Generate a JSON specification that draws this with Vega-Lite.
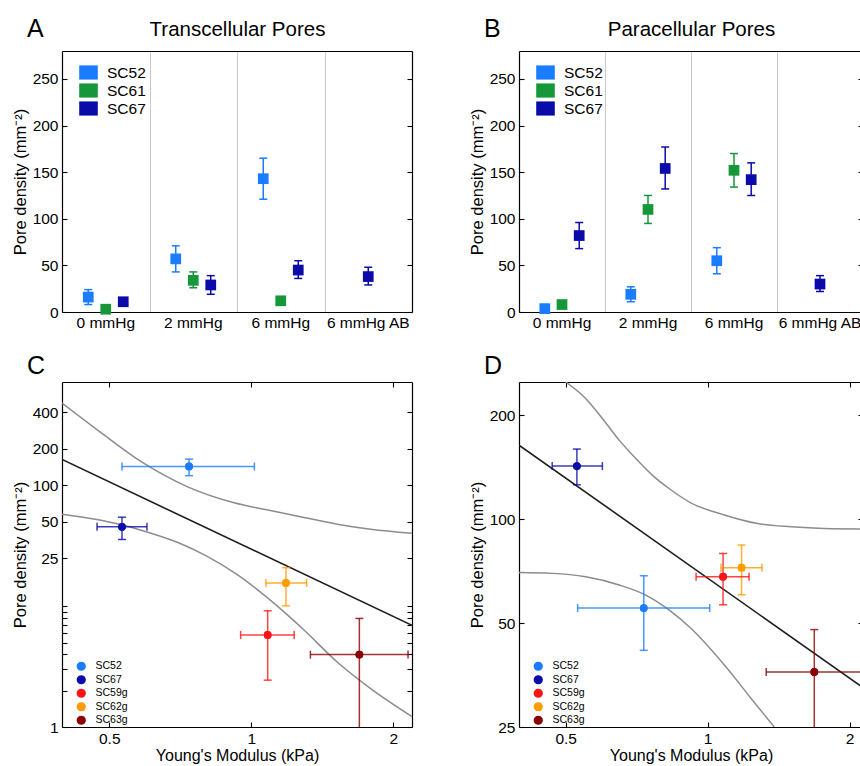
{
  "$schema": "https://vega.github.io/schema/vega-lite/v6.json",
  "padding": {"left": 12, "top": 17, "right": 0, "bottom": 0},
  "background": "white",
  "config": {
    "font": "Liberation Sans",
    "view": {"stroke": null},
    "axis": {"domainColor": "#000", "domainWidth": 1.2, "tickColor": "#000", "tickWidth": 1.1, "labelColor": "#000", "titleColor": "#000", "labelFontSize": 15.5, "titleFontSize": 16, "titleFontWeight": "normal", "grid": false, "zindex": 1},
    "title": {"fontWeight": "normal", "color": "#000"},
    "legend": {"labelColor": "#000"}
  },
  "datasets": {
    "tp": [
      {"cond": "0 mmHg", "series": "SC52", "y": 16, "lo": 8, "hi": 24},
      {"cond": "0 mmHg", "series": "SC61", "y": 3, "lo": 1.5, "hi": 4.5},
      {"cond": "0 mmHg", "series": "SC67", "y": 11, "lo": 8, "hi": 14},
      {"cond": "2 mmHg", "series": "SC52", "y": 57, "lo": 43, "hi": 71},
      {"cond": "2 mmHg", "series": "SC61", "y": 34, "lo": 26, "hi": 43},
      {"cond": "2 mmHg", "series": "SC67", "y": 29, "lo": 19, "hi": 39},
      {"cond": "6 mmHg", "series": "SC52", "y": 143, "lo": 121, "hi": 165},
      {"cond": "6 mmHg", "series": "SC61", "y": 12, "lo": 10, "hi": 14},
      {"cond": "6 mmHg", "series": "SC67", "y": 45, "lo": 36, "hi": 55},
      {"cond": "6 mmHg AB", "series": "SC67", "y": 38, "lo": 29, "hi": 48}
    ],
    "pp": [
      {"cond": "0 mmHg", "series": "SC52", "y": 3.6, "lo": 2, "hi": 5},
      {"cond": "0 mmHg", "series": "SC61", "y": 8, "lo": 6, "hi": 10},
      {"cond": "0 mmHg", "series": "SC67", "y": 82, "lo": 68, "hi": 96},
      {"cond": "2 mmHg", "series": "SC52", "y": 19, "lo": 11, "hi": 27},
      {"cond": "2 mmHg", "series": "SC61", "y": 110, "lo": 95, "hi": 125},
      {"cond": "2 mmHg", "series": "SC67", "y": 154, "lo": 132, "hi": 177},
      {"cond": "6 mmHg", "series": "SC52", "y": 55, "lo": 41, "hi": 69},
      {"cond": "6 mmHg", "series": "SC61", "y": 152, "lo": 134, "hi": 170},
      {"cond": "6 mmHg", "series": "SC67", "y": 142, "lo": 125, "hi": 160},
      {"cond": "6 mmHg AB", "series": "SC67", "y": 30, "lo": 22, "hi": 39}
    ],
    "cm": [
      {"series": "SC52", "x": 0.738, "xlo": 0.532, "xhi": 1.015, "y": 143, "ylo": 120, "yhi": 164.6},
      {"series": "SC67", "x": 0.532, "xlo": 0.471, "xhi": 0.601, "y": 45.3, "ylo": 35.6, "yhi": 54.4},
      {"series": "SC59g", "x": 1.083, "xlo": 0.949, "xhi": 1.233, "y": 5.77, "ylo": 2.44, "yhi": 9.15},
      {"series": "SC62g", "x": 1.184, "xlo": 1.074, "xhi": 1.31, "y": 15.56, "ylo": 10.06, "yhi": 20.8},
      {"series": "SC63g", "x": 1.694, "xlo": 1.334, "xhi": 2.148, "y": 3.97, "ylo": 0.9, "yhi": 7.91}
    ],
    "dm": [
      {"series": "SC52", "x": 0.732, "xlo": 0.53, "xhi": 1.01, "y": 55.3, "ylo": 41.7, "yhi": 68.6},
      {"series": "SC67", "x": 0.528, "xlo": 0.468, "xhi": 0.598, "y": 142.6, "ylo": 125.9, "yhi": 159.8},
      {"series": "SC59g", "x": 1.078, "xlo": 0.945, "xhi": 1.224, "y": 68.2, "ylo": 56.5, "yhi": 79.6},
      {"series": "SC62g", "x": 1.18, "xlo": 1.067, "xhi": 1.304, "y": 72.4, "ylo": 60.4, "yhi": 84.2},
      {"series": "SC63g", "x": 1.683, "xlo": 1.331, "xhi": 2.14, "y": 36.1, "ylo": 24, "yhi": 47.9}
    ],
    "cfit": [
      {"curve": "fit", "x": 0.397, "y": 163.5},
      {"curve": "fit", "x": 2.19, "y": 6.93},
      {"curve": "upper", "x": 0.397, "y": 479},
      {"curve": "upper", "x": 0.478, "y": 276.5},
      {"curve": "upper", "x": 0.589, "y": 153.6},
      {"curve": "upper", "x": 0.731, "y": 97.4},
      {"curve": "upper", "x": 0.915, "y": 71.9},
      {"curve": "upper", "x": 1.097, "y": 61.8},
      {"curve": "upper", "x": 1.293, "y": 54.1},
      {"curve": "upper", "x": 1.52, "y": 47.6},
      {"curve": "upper", "x": 1.79, "y": 43.3},
      {"curve": "upper", "x": 2.19, "y": 40.1},
      {"curve": "lower", "x": 0.397, "y": 57.6},
      {"curve": "lower", "x": 0.467, "y": 52.3},
      {"curve": "lower", "x": 0.528, "y": 47.3},
      {"curve": "lower", "x": 0.596, "y": 41.5},
      {"curve": "lower", "x": 0.703, "y": 33.3},
      {"curve": "lower", "x": 0.799, "y": 26.3},
      {"curve": "lower", "x": 0.932, "y": 18.3},
      {"curve": "lower", "x": 1.097, "y": 11.2},
      {"curve": "lower", "x": 1.293, "y": 6.34},
      {"curve": "lower", "x": 1.52, "y": 3.45},
      {"curve": "lower", "x": 1.79, "y": 2.08},
      {"curve": "lower", "x": 2.19, "y": 1.22}
    ],
    "dfit": [
      {"curve": "fit", "x": 0.398, "y": 164},
      {"curve": "fit", "x": 2.135, "y": 32.5},
      {"curve": "upper", "x": 0.5, "y": 250},
      {"curve": "upper", "x": 0.551, "y": 224},
      {"curve": "upper", "x": 0.598, "y": 196},
      {"curve": "upper", "x": 0.649, "y": 169.6},
      {"curve": "upper", "x": 0.704, "y": 150},
      {"curve": "upper", "x": 0.763, "y": 134.3},
      {"curve": "upper", "x": 0.828, "y": 122.8},
      {"curve": "upper", "x": 0.921, "y": 111.6},
      {"curve": "upper", "x": 1.085, "y": 102.9},
      {"curve": "upper", "x": 1.276, "y": 97.2},
      {"curve": "upper", "x": 1.502, "y": 95.1},
      {"curve": "upper", "x": 1.767, "y": 94.0},
      {"curve": "upper", "x": 2.135, "y": 93.7},
      {"curve": "lower", "x": 0.398, "y": 70.1},
      {"curve": "lower", "x": 0.468, "y": 69.7},
      {"curve": "lower", "x": 0.551, "y": 68.1},
      {"curve": "lower", "x": 0.649, "y": 64.5},
      {"curve": "lower", "x": 0.739, "y": 60.3},
      {"curve": "lower", "x": 0.828, "y": 54.6},
      {"curve": "lower", "x": 0.921, "y": 48.3},
      {"curve": "lower", "x": 1.085, "y": 37.8},
      {"curve": "lower", "x": 1.235, "y": 30.3},
      {"curve": "lower", "x": 1.384, "y": 25}
    ]
  },
  "columns": 2,
  "spacing": {"row": 23, "column": 56},
  "resolve": {"scale": {"color": "independent", "xOffset": "independent", "x": "independent", "y": "independent"}, "legend": {"color": "independent"}},
  "concat": [
    {
      "width": 350, "height": 261,
      "title": {"text": "A", "anchor": "start", "frame": "group", "dx": -35, "dy": 23, "fontSize": 25, "offset": 0},
      "data": {"name": "tp"},
      "resolve": {"axis": {"x": "independent", "y": "independent"}},
      "layer": [
        {"transform": [{"filter": "datum.cond != '6 mmHg AB'"}],
         "mark": {"type": "square", "size": 115, "opacity": 1},
         "encoding": {
           "x": {"field": "cond", "type": "nominal", "scale": {"domain": ["0 mmHg", "2 mmHg", "6 mmHg", "6 mmHg AB"], "paddingInner": 0, "paddingOuter": 0}, "axis": {"orient": "bottom", "title": null, "ticks": false, "labelPadding": 3, "labelAngle": 0, "labelFontSize": 15.5}},
           "xOffset": {"field": "series", "type": "nominal", "scale": {"domain": ["SC52", "SC61", "SC67"], "paddingInner": 0, "paddingOuter": 1}},
           "y": {"field": "y", "type": "quantitative", "scale": {"domain": [0, 280], "nice": false}, "axis": {"orient": "left", "values": [0, 50, 100, 150, 200, 250], "tickSize": -5, "labelPadding": 9, "labelFontSize": 15.5, "title": "Pore density (mm⁻²)", "titleFontSize": 16.5, "titlePadding": 4}},
           "color": {"field": "series", "type": "nominal", "scale": {"domain": ["SC52", "SC61", "SC67"], "range": ["#1a7cff", "#16973a", "#0b0baa"]},
             "legend": {"title": null, "orient": "none", "legendX": 17, "legendY": 12, "symbolType": "M-1,-0.75H1V0.75H-1Z", "symbolSize": 324, "labelFontSize": 15.5, "labelOffset": 9, "rowPadding": 0, "padding": 0, "symbolStrokeColor": "#aaaaaa", "symbolStrokeWidth": 0.6}}
         }},
        {"transform": [{"filter": "datum.cond == '6 mmHg AB'"}],
         "mark": {"type": "square", "size": 115, "opacity": 1},
         "encoding": {
           "x": {"field": "cond", "type": "nominal", "scale": {"domain": ["0 mmHg", "2 mmHg", "6 mmHg", "6 mmHg AB"], "paddingInner": 0, "paddingOuter": 0}, "axis": null},
           "y": {"field": "y", "type": "quantitative", "scale": {"domain": [0, 280], "nice": false}, "axis": null},
           "color": {"field": "series", "type": "nominal", "legend": null}
         }},
        {"transform": [{"filter": "datum.cond != '6 mmHg AB'"}],
         "mark": {"type": "rule", "strokeWidth": 1.5},
         "encoding": {
           "x": {"field": "cond", "type": "nominal", "scale": {"domain": ["0 mmHg", "2 mmHg", "6 mmHg", "6 mmHg AB"], "paddingInner": 0, "paddingOuter": 0}, "axis": {"orient": "top", "labels": false, "ticks": false, "grid": true, "tickBand": "extent", "gridColor": "#c9c9c9", "gridWidth": 1, "title": "Transcellular Pores", "titleFontSize": 20.5, "titlePadding": 12, "zindex": 0}},
           "xOffset": {"field": "series", "type": "nominal", "scale": {"domain": ["SC52", "SC61", "SC67"], "paddingInner": 0, "paddingOuter": 1}},
           "y": {"field": "lo", "type": "quantitative", "scale": {"domain": [0, 280], "nice": false}, "axis": {"orient": "right", "values": [0, 50, 100, 150, 200, 250], "tickSize": -5, "labels": false, "title": null}},
           "y2": {"field": "hi"},
           "color": {"field": "series", "type": "nominal", "legend": null}
         }},
        {"transform": [{"filter": "datum.cond == '6 mmHg AB'"}],
         "mark": {"type": "rule", "strokeWidth": 1.5},
         "encoding": {
           "x": {"field": "cond", "type": "nominal", "axis": null},
           "y": {"field": "lo", "type": "quantitative", "axis": null},
           "y2": {"field": "hi"},
           "color": {"field": "series", "type": "nominal", "legend": null}
         }},
        {"transform": [{"filter": "datum.cond != '6 mmHg AB'"}, {"fold": ["lo", "hi"], "as": ["k", "v"]}],
         "mark": {"type": "tick", "orient": "horizontal", "size": 8, "thickness": 1.5, "opacity": 1},
         "encoding": {
           "x": {"field": "cond", "type": "nominal", "axis": null},
           "xOffset": {"field": "series", "type": "nominal"},
           "y": {"field": "v", "type": "quantitative", "axis": null},
           "color": {"field": "series", "type": "nominal", "legend": null}
         }},
        {"transform": [{"filter": "datum.cond == '6 mmHg AB'"}, {"fold": ["lo", "hi"], "as": ["k", "v"]}],
         "mark": {"type": "tick", "orient": "horizontal", "size": 8, "thickness": 1.5, "opacity": 1},
         "encoding": {
           "x": {"field": "cond", "type": "nominal", "axis": null},
           "y": {"field": "v", "type": "quantitative", "axis": null},
           "color": {"field": "series", "type": "nominal", "legend": null}
         }}
      ]
    },
    {
      "width": 344, "height": 261,
      "title": {"text": "B", "anchor": "start", "frame": "group", "dx": -35, "dy": 23, "fontSize": 25, "offset": 0},
      "data": {"name": "pp"},
      "resolve": {"axis": {"x": "independent", "y": "independent"}},
      "layer": [
        {"transform": [{"filter": "datum.cond != '6 mmHg AB'"}],
         "mark": {"type": "square", "size": 115, "opacity": 1},
         "encoding": {
           "x": {"field": "cond", "type": "nominal", "scale": {"domain": ["0 mmHg", "2 mmHg", "6 mmHg", "6 mmHg AB"], "paddingInner": 0, "paddingOuter": 0}, "axis": {"orient": "bottom", "title": null, "ticks": false, "labelPadding": 3, "labelAngle": 0, "labelFontSize": 15.5}},
           "xOffset": {"field": "series", "type": "nominal", "scale": {"domain": ["SC52", "SC61", "SC67"], "paddingInner": 0, "paddingOuter": 1}},
           "y": {"field": "y", "type": "quantitative", "scale": {"domain": [0, 280], "nice": false}, "axis": {"orient": "left", "values": [0, 50, 100, 150, 200, 250], "tickSize": -5, "labelPadding": 9, "labelFontSize": 15.5, "title": "Pore density (mm⁻²)", "titleFontSize": 16.5, "titlePadding": 4}},
           "color": {"field": "series", "type": "nominal", "scale": {"domain": ["SC52", "SC61", "SC67"], "range": ["#1a7cff", "#16973a", "#0b0baa"]},
             "legend": {"title": null, "orient": "none", "legendX": 17, "legendY": 12, "symbolType": "M-1,-0.75H1V0.75H-1Z", "symbolSize": 324, "labelFontSize": 15.5, "labelOffset": 9, "rowPadding": 0, "padding": 0, "symbolStrokeColor": "#aaaaaa", "symbolStrokeWidth": 0.6}}
         }},
        {"transform": [{"filter": "datum.cond == '6 mmHg AB'"}],
         "mark": {"type": "square", "size": 115, "opacity": 1},
         "encoding": {
           "x": {"field": "cond", "type": "nominal", "scale": {"domain": ["0 mmHg", "2 mmHg", "6 mmHg", "6 mmHg AB"], "paddingInner": 0, "paddingOuter": 0}, "axis": null},
           "y": {"field": "y", "type": "quantitative", "scale": {"domain": [0, 280], "nice": false}, "axis": null},
           "color": {"field": "series", "type": "nominal", "legend": null}
         }},
        {"transform": [{"filter": "datum.cond != '6 mmHg AB'"}],
         "mark": {"type": "rule", "strokeWidth": 1.5},
         "encoding": {
           "x": {"field": "cond", "type": "nominal", "scale": {"domain": ["0 mmHg", "2 mmHg", "6 mmHg", "6 mmHg AB"], "paddingInner": 0, "paddingOuter": 0}, "axis": {"orient": "top", "labels": false, "ticks": false, "grid": true, "tickBand": "extent", "gridColor": "#c9c9c9", "gridWidth": 1, "title": "Paracellular Pores", "titleFontSize": 20.5, "titlePadding": 12, "zindex": 0}},
           "xOffset": {"field": "series", "type": "nominal", "scale": {"domain": ["SC52", "SC61", "SC67"], "paddingInner": 0, "paddingOuter": 1}},
           "y": {"field": "lo", "type": "quantitative", "scale": {"domain": [0, 280], "nice": false}, "axis": {"orient": "right", "values": [0, 50, 100, 150, 200, 250], "tickSize": -5, "labels": false, "title": null}},
           "y2": {"field": "hi"},
           "color": {"field": "series", "type": "nominal", "legend": null}
         }},
        {"transform": [{"filter": "datum.cond == '6 mmHg AB'"}],
         "mark": {"type": "rule", "strokeWidth": 1.5},
         "encoding": {
           "x": {"field": "cond", "type": "nominal", "axis": null},
           "y": {"field": "lo", "type": "quantitative", "axis": null},
           "y2": {"field": "hi"},
           "color": {"field": "series", "type": "nominal", "legend": null}
         }},
        {"transform": [{"filter": "datum.cond != '6 mmHg AB'"}, {"fold": ["lo", "hi"], "as": ["k", "v"]}],
         "mark": {"type": "tick", "orient": "horizontal", "size": 8, "thickness": 1.5, "opacity": 1},
         "encoding": {
           "x": {"field": "cond", "type": "nominal", "axis": null},
           "xOffset": {"field": "series", "type": "nominal"},
           "y": {"field": "v", "type": "quantitative", "axis": null},
           "color": {"field": "series", "type": "nominal", "legend": null}
         }},
        {"transform": [{"filter": "datum.cond == '6 mmHg AB'"}, {"fold": ["lo", "hi"], "as": ["k", "v"]}],
         "mark": {"type": "tick", "orient": "horizontal", "size": 8, "thickness": 1.5, "opacity": 1},
         "encoding": {
           "x": {"field": "cond", "type": "nominal", "axis": null},
           "y": {"field": "v", "type": "quantitative", "axis": null},
           "color": {"field": "series", "type": "nominal", "legend": null}
         }}
      ]
    },
    {
      "width": 350, "height": 345,
      "title": {"text": "C", "anchor": "start", "frame": "group", "dx": -35, "dy": 0, "fontSize": 25, "offset": 2},
      "resolve": {"axis": {"x": "independent", "y": "independent"}},
      "layer": [
        {"data": {"name": "cm"},
         "mark": {"type": "circle", "size": 60, "opacity": 1},
         "encoding": {
           "x": {"field": "x", "type": "quantitative", "scale": {"type": "log", "domain": [0.397, 2.19], "nice": false}, "axis": null},
           "y": {"field": "y", "type": "quantitative", "scale": {"type": "log", "domain": [1, 715], "nice": false}, "axis": null},
           "color": {"field": "series", "type": "nominal", "scale": {"domain": ["SC52", "SC67", "SC59g", "SC62g", "SC63g"], "range": ["#1a7cff", "#0b0baa", "#ff1414", "#ff9c00", "#8b0000"]},
             "legend": {"title": null, "orient": "none", "legendX": 14, "legendY": 279, "symbolType": "circle", "symbolSize": 60, "labelFontSize": 10.5, "labelOffset": 9, "rowPadding": -1.5, "padding": 0}}
         }},
        {"data": {"name": "cfit"},
         "transform": [{"filter": "datum.curve == 'fit'"}],
         "mark": {"type": "line", "color": "#1e1e1e", "strokeWidth": 1.6, "clip": true},
         "encoding": {
           "x": {"field": "x", "type": "quantitative", "scale": {"type": "log", "domain": [0.397, 2.19], "nice": false}, "axis": {"orient": "bottom", "values": [0.5, 1, 2], "format": "~g", "tickSize": -5, "labelPadding": 9, "labelFontSize": 15.5, "title": "Young's Modulus (kPa)", "titleFontSize": 16, "titlePadding": 1}},
           "y": {"field": "y", "type": "quantitative", "scale": {"type": "log", "domain": [1, 715], "nice": false}, "axis": {"orient": "left", "values": [1, 2, 3, 4, 5, 6, 7, 8, 9, 10, 25, 50, 100, 200, 400], "labelExpr": "datum.value == 1 || datum.value >= 25 ? format(datum.value, '~g') : ''", "tickSize": -5, "labelPadding": 9, "labelFontSize": 15.5, "title": "Pore density (mm⁻²)", "titleFontSize": 16.5, "titlePadding": 4}}
         }},
        {"data": {"name": "cfit"},
         "transform": [{"filter": "datum.curve != 'fit'"}],
         "mark": {"type": "line", "color": "#8c8c8c", "strokeWidth": 1.5, "clip": true, "interpolate": "monotone"},
         "encoding": {
           "x": {"field": "x", "type": "quantitative", "scale": {"type": "log", "domain": [0.397, 2.19], "nice": false}, "axis": {"orient": "top", "values": [0.5, 1, 2], "tickSize": -5, "labels": false, "title": null}},
           "y": {"field": "y", "type": "quantitative", "scale": {"type": "log", "domain": [1, 715], "nice": false}, "axis": {"orient": "right", "values": [1, 2, 3, 4, 5, 6, 7, 8, 9, 10, 25, 50, 100, 200, 400], "tickSize": -5, "labels": false, "title": null}},
           "detail": {"field": "curve", "type": "nominal"}
         }},
        {"data": {"name": "cm"},
         "mark": {"type": "rule", "strokeWidth": 1.5, "clip": true, "opacity": 0.8},
         "encoding": {
           "x": {"field": "x", "type": "quantitative", "scale": {"type": "log", "domain": [0.397, 2.19], "nice": false}, "axis": null},
           "y": {"field": "ylo", "type": "quantitative", "scale": {"type": "log", "domain": [1, 715], "nice": false}, "axis": null},
           "y2": {"field": "yhi"},
           "color": {"field": "series", "type": "nominal", "legend": null}
         }},
        {"data": {"name": "cm"},
         "mark": {"type": "rule", "strokeWidth": 1.5, "clip": true, "opacity": 0.8},
         "encoding": {
           "y": {"field": "y", "type": "quantitative", "scale": {"type": "log", "domain": [1, 715], "nice": false}, "axis": null},
           "x": {"field": "xlo", "type": "quantitative", "scale": {"type": "log", "domain": [0.397, 2.19], "nice": false}, "axis": null},
           "x2": {"field": "xhi"},
           "color": {"field": "series", "type": "nominal", "legend": null}
         }},
        {"data": {"name": "cm"},
         "transform": [{"fold": ["ylo", "yhi"], "as": ["k", "v"]}],
         "mark": {"type": "tick", "orient": "horizontal", "size": 8, "thickness": 1.5, "clip": true, "opacity": 0.8},
         "encoding": {
           "x": {"field": "x", "type": "quantitative", "scale": {"type": "log", "domain": [0.397, 2.19], "nice": false}, "axis": null},
           "y": {"field": "v", "type": "quantitative", "scale": {"type": "log", "domain": [1, 715], "nice": false}, "axis": null},
           "color": {"field": "series", "type": "nominal", "legend": null}
         }},
        {"data": {"name": "cm"},
         "transform": [{"fold": ["xlo", "xhi"], "as": ["k", "v"]}],
         "mark": {"type": "tick", "orient": "vertical", "size": 8, "thickness": 1.5, "clip": true, "opacity": 0.8},
         "encoding": {
           "x": {"field": "v", "type": "quantitative", "scale": {"type": "log", "domain": [0.397, 2.19], "nice": false}, "axis": null},
           "y": {"field": "y", "type": "quantitative", "scale": {"type": "log", "domain": [1, 715], "nice": false}, "axis": null},
           "color": {"field": "series", "type": "nominal", "legend": null}
         }},
        {"data": {"name": "cm"},
         "mark": {"type": "circle", "size": 60, "opacity": 1},
         "encoding": {
           "x": {"field": "x", "type": "quantitative", "scale": {"type": "log", "domain": [0.397, 2.19], "nice": false}, "axis": null},
           "y": {"field": "y", "type": "quantitative", "scale": {"type": "log", "domain": [1, 715], "nice": false}, "axis": null},
           "color": {"field": "series", "type": "nominal", "legend": null}
         }}
      ]
    },
    {
      "width": 344, "height": 345,
      "title": {"text": "D", "anchor": "start", "frame": "group", "dx": -35, "dy": 0, "fontSize": 25, "offset": 2},
      "resolve": {"axis": {"x": "independent", "y": "independent"}},
      "layer": [
        {"data": {"name": "dm"},
         "mark": {"type": "circle", "size": 60, "opacity": 1},
         "encoding": {
           "x": {"field": "x", "type": "quantitative", "scale": {"type": "log", "domain": [0.398, 2.135], "nice": false}, "axis": null},
           "y": {"field": "y", "type": "quantitative", "scale": {"type": "log", "domain": [25, 250], "nice": false}, "axis": null},
           "color": {"field": "series", "type": "nominal", "scale": {"domain": ["SC52", "SC67", "SC59g", "SC62g", "SC63g"], "range": ["#1a7cff", "#0b0baa", "#ff1414", "#ff9c00", "#8b0000"]},
             "legend": {"title": null, "orient": "none", "legendX": 14, "legendY": 279, "symbolType": "circle", "symbolSize": 60, "labelFontSize": 10.5, "labelOffset": 9, "rowPadding": -1.5, "padding": 0}}
         }},
        {"data": {"name": "dfit"},
         "transform": [{"filter": "datum.curve == 'fit'"}],
         "mark": {"type": "line", "color": "#1e1e1e", "strokeWidth": 1.6, "clip": true},
         "encoding": {
           "x": {"field": "x", "type": "quantitative", "scale": {"type": "log", "domain": [0.398, 2.135], "nice": false}, "axis": {"orient": "bottom", "values": [0.5, 1, 2], "format": "~g", "tickSize": -5, "labelPadding": 9, "labelFontSize": 15.5, "title": "Young's Modulus (kPa)", "titleFontSize": 16, "titlePadding": 1}},
           "y": {"field": "y", "type": "quantitative", "scale": {"type": "log", "domain": [25, 250], "nice": false}, "axis": {"orient": "left", "values": [25, 50, 100, 200], "format": "~g", "tickSize": -5, "labelPadding": 9, "labelFontSize": 15.5, "title": "Pore density (mm⁻²)", "titleFontSize": 16.5, "titlePadding": 4}}
         }},
        {"data": {"name": "dfit"},
         "transform": [{"filter": "datum.curve != 'fit'"}],
         "mark": {"type": "line", "color": "#8c8c8c", "strokeWidth": 1.5, "clip": true, "interpolate": "monotone"},
         "encoding": {
           "x": {"field": "x", "type": "quantitative", "scale": {"type": "log", "domain": [0.398, 2.135], "nice": false}, "axis": {"orient": "top", "values": [0.5, 1, 2], "tickSize": -5, "labels": false, "title": null}},
           "y": {"field": "y", "type": "quantitative", "scale": {"type": "log", "domain": [25, 250], "nice": false}, "axis": {"orient": "right", "values": [25, 50, 100, 200], "tickSize": -5, "labels": false, "title": null}},
           "detail": {"field": "curve", "type": "nominal"}
         }},
        {"data": {"name": "dm"},
         "mark": {"type": "rule", "strokeWidth": 1.5, "clip": true, "opacity": 0.8},
         "encoding": {
           "x": {"field": "x", "type": "quantitative", "scale": {"type": "log", "domain": [0.398, 2.135], "nice": false}, "axis": null},
           "y": {"field": "ylo", "type": "quantitative", "scale": {"type": "log", "domain": [25, 250], "nice": false}, "axis": null},
           "y2": {"field": "yhi"},
           "color": {"field": "series", "type": "nominal", "legend": null}
         }},
        {"data": {"name": "dm"},
         "mark": {"type": "rule", "strokeWidth": 1.5, "clip": true, "opacity": 0.8},
         "encoding": {
           "y": {"field": "y", "type": "quantitative", "scale": {"type": "log", "domain": [25, 250], "nice": false}, "axis": null},
           "x": {"field": "xlo", "type": "quantitative", "scale": {"type": "log", "domain": [0.398, 2.135], "nice": false}, "axis": null},
           "x2": {"field": "xhi"},
           "color": {"field": "series", "type": "nominal", "legend": null}
         }},
        {"data": {"name": "dm"},
         "transform": [{"fold": ["ylo", "yhi"], "as": ["k", "v"]}],
         "mark": {"type": "tick", "orient": "horizontal", "size": 8, "thickness": 1.5, "clip": true, "opacity": 0.8},
         "encoding": {
           "x": {"field": "x", "type": "quantitative", "scale": {"type": "log", "domain": [0.398, 2.135], "nice": false}, "axis": null},
           "y": {"field": "v", "type": "quantitative", "scale": {"type": "log", "domain": [25, 250], "nice": false}, "axis": null},
           "color": {"field": "series", "type": "nominal", "legend": null}
         }},
        {"data": {"name": "dm"},
         "transform": [{"fold": ["xlo", "xhi"], "as": ["k", "v"]}],
         "mark": {"type": "tick", "orient": "vertical", "size": 8, "thickness": 1.5, "clip": true, "opacity": 0.8},
         "encoding": {
           "x": {"field": "v", "type": "quantitative", "scale": {"type": "log", "domain": [0.398, 2.135], "nice": false}, "axis": null},
           "y": {"field": "y", "type": "quantitative", "scale": {"type": "log", "domain": [25, 250], "nice": false}, "axis": null},
           "color": {"field": "series", "type": "nominal", "legend": null}
         }},
        {"data": {"name": "dm"},
         "mark": {"type": "circle", "size": 60, "opacity": 1},
         "encoding": {
           "x": {"field": "x", "type": "quantitative", "scale": {"type": "log", "domain": [0.398, 2.135], "nice": false}, "axis": null},
           "y": {"field": "y", "type": "quantitative", "scale": {"type": "log", "domain": [25, 250], "nice": false}, "axis": null},
           "color": {"field": "series", "type": "nominal", "legend": null}
         }}
      ]
    }
  ]
}
